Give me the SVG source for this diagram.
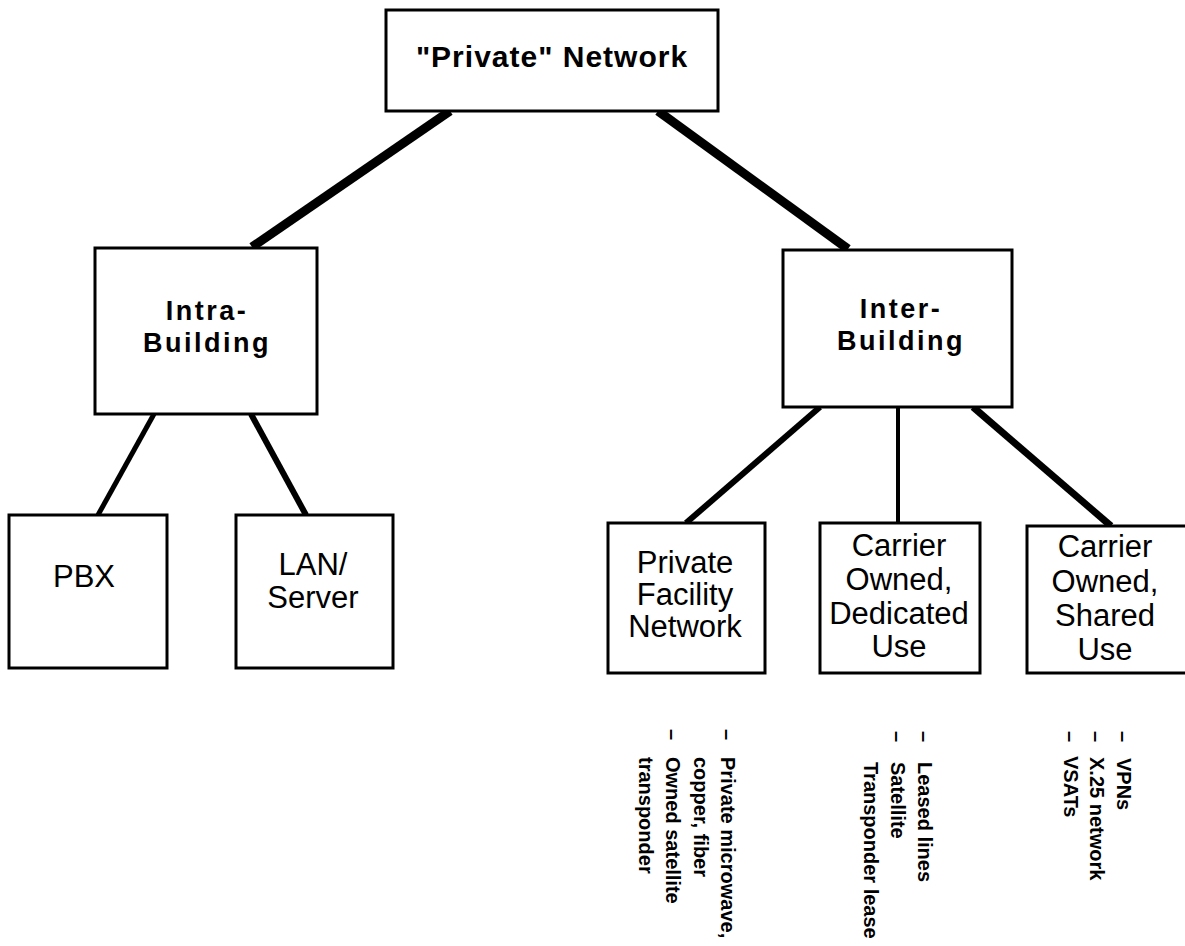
<svg xmlns="http://www.w3.org/2000/svg" width="1185" height="946" viewBox="0 0 1185 946">
<style>
.box{fill:#fff;stroke:#000;stroke-width:3}
.hb{font-family:"Liberation Sans",Arial,sans-serif;font-weight:bold;fill:#000;text-anchor:middle}
.t{font-family:"Liberation Sans",Arial,sans-serif;font-size:31px;fill:#000;text-anchor:middle}
.n{font-family:"Liberation Sans",Arial,sans-serif;font-size:20px;font-weight:bold;fill:#000}
.c{stroke:#000;stroke-linecap:butt;fill:none}
</style>
<rect width="1185" height="946" fill="#fff"/>
<g id="connectors">
<line class="c" x1="450" y1="111" x2="252" y2="247" stroke-width="9"/>
<line class="c" x1="658" y1="111" x2="848" y2="249" stroke-width="9"/>
<line class="c" x1="154" y1="414" x2="98" y2="515" stroke-width="5"/>
<line class="c" x1="251" y1="414" x2="306" y2="515" stroke-width="6"/>
<line class="c" x1="820" y1="407" x2="686" y2="523" stroke-width="6"/>
<line class="c" x1="898" y1="407" x2="898" y2="523" stroke-width="4"/>
<line class="c" x1="973" y1="407" x2="1111" y2="526" stroke-width="7"/>
</g>
<g id="private-network">
<rect class="box" x="386" y="10" width="332" height="101"/>
<text class="hb" x="552" y="67" font-size="30" letter-spacing="1">"Private" Network</text>
</g>
<g id="intra-building">
<rect class="box" x="95" y="248" width="222" height="166"/>
<text class="hb" x="207" y="320" font-size="27" letter-spacing="2.5">Intra-</text>
<text class="hb" x="207" y="352" font-size="27" letter-spacing="2.5">Building</text>
</g>
<g id="inter-building">
<rect class="box" x="783" y="250" width="229" height="157"/>
<text class="hb" x="901" y="318" font-size="27" letter-spacing="2.5">Inter-</text>
<text class="hb" x="901" y="350" font-size="27" letter-spacing="2.5">Building</text>
</g>
<g id="pbx">
<rect class="box" x="9" y="515" width="158" height="153"/>
<text class="t" x="84" y="587">PBX</text>
</g>
<g id="lan-server">
<rect class="box" x="236" y="515" width="157" height="153"/>
<text class="t" x="313" y="575">LAN/</text>
<text class="t" x="313" y="608">Server</text>
</g>
<g id="private-facility">
<rect class="box" x="608" y="523" width="157" height="150"/>
<text class="t" x="685" y="573">Private</text>
<text class="t" x="685" y="605">Facility</text>
<text class="t" x="685" y="637">Network</text>
</g>
<g id="carrier-dedicated">
<rect class="box" x="820" y="523" width="160" height="150"/>
<text class="t" x="899" y="556">Carrier</text>
<text class="t" x="899" y="590">Owned,</text>
<text class="t" x="899" y="624">Dedicated</text>
<text class="t" x="899" y="657">Use</text>
</g>
<g id="carrier-shared">
<rect class="box" x="1027" y="526" width="160" height="147"/>
<text class="t" x="1105" y="557">Carrier</text>
<text class="t" x="1105" y="592">Owned,</text>
<text class="t" x="1105" y="626">Shared</text>
<text class="t" x="1105" y="660">Use</text>
</g>
<g id="notes-private-facility">
<text class="n" transform="translate(721,729) rotate(90)">–</text>
<text class="n" transform="translate(721,757) rotate(90)">Private microwave,</text>
<text class="n" transform="translate(694,757) rotate(90)">copper, fiber</text>
<text class="n" transform="translate(666,729) rotate(90)">–</text>
<text class="n" transform="translate(666,757) rotate(90)">Owned satellite</text>
<text class="n" transform="translate(639,757) rotate(90)">transponder</text>
</g>
<g id="notes-dedicated">
<text class="n" transform="translate(918,731) rotate(90)">–</text>
<text class="n" transform="translate(918,762) rotate(90)">Leased lines</text>
<text class="n" transform="translate(891,731) rotate(90)">–</text>
<text class="n" transform="translate(891,762) rotate(90)">Satellite</text>
<text class="n" transform="translate(864,762) rotate(90)">Transponder lease</text>
</g>
<g id="notes-shared">
<text class="n" transform="translate(1117,731) rotate(90)">–</text>
<text class="n" transform="translate(1117,758) rotate(90)">VPNs</text>
<text class="n" transform="translate(1090,731) rotate(90)">–</text>
<text class="n" transform="translate(1090,757) rotate(90)">X.25 network</text>
<text class="n" transform="translate(1064,731) rotate(90)">–</text>
<text class="n" transform="translate(1064,756) rotate(90)">VSATs</text>
</g>
</svg>
